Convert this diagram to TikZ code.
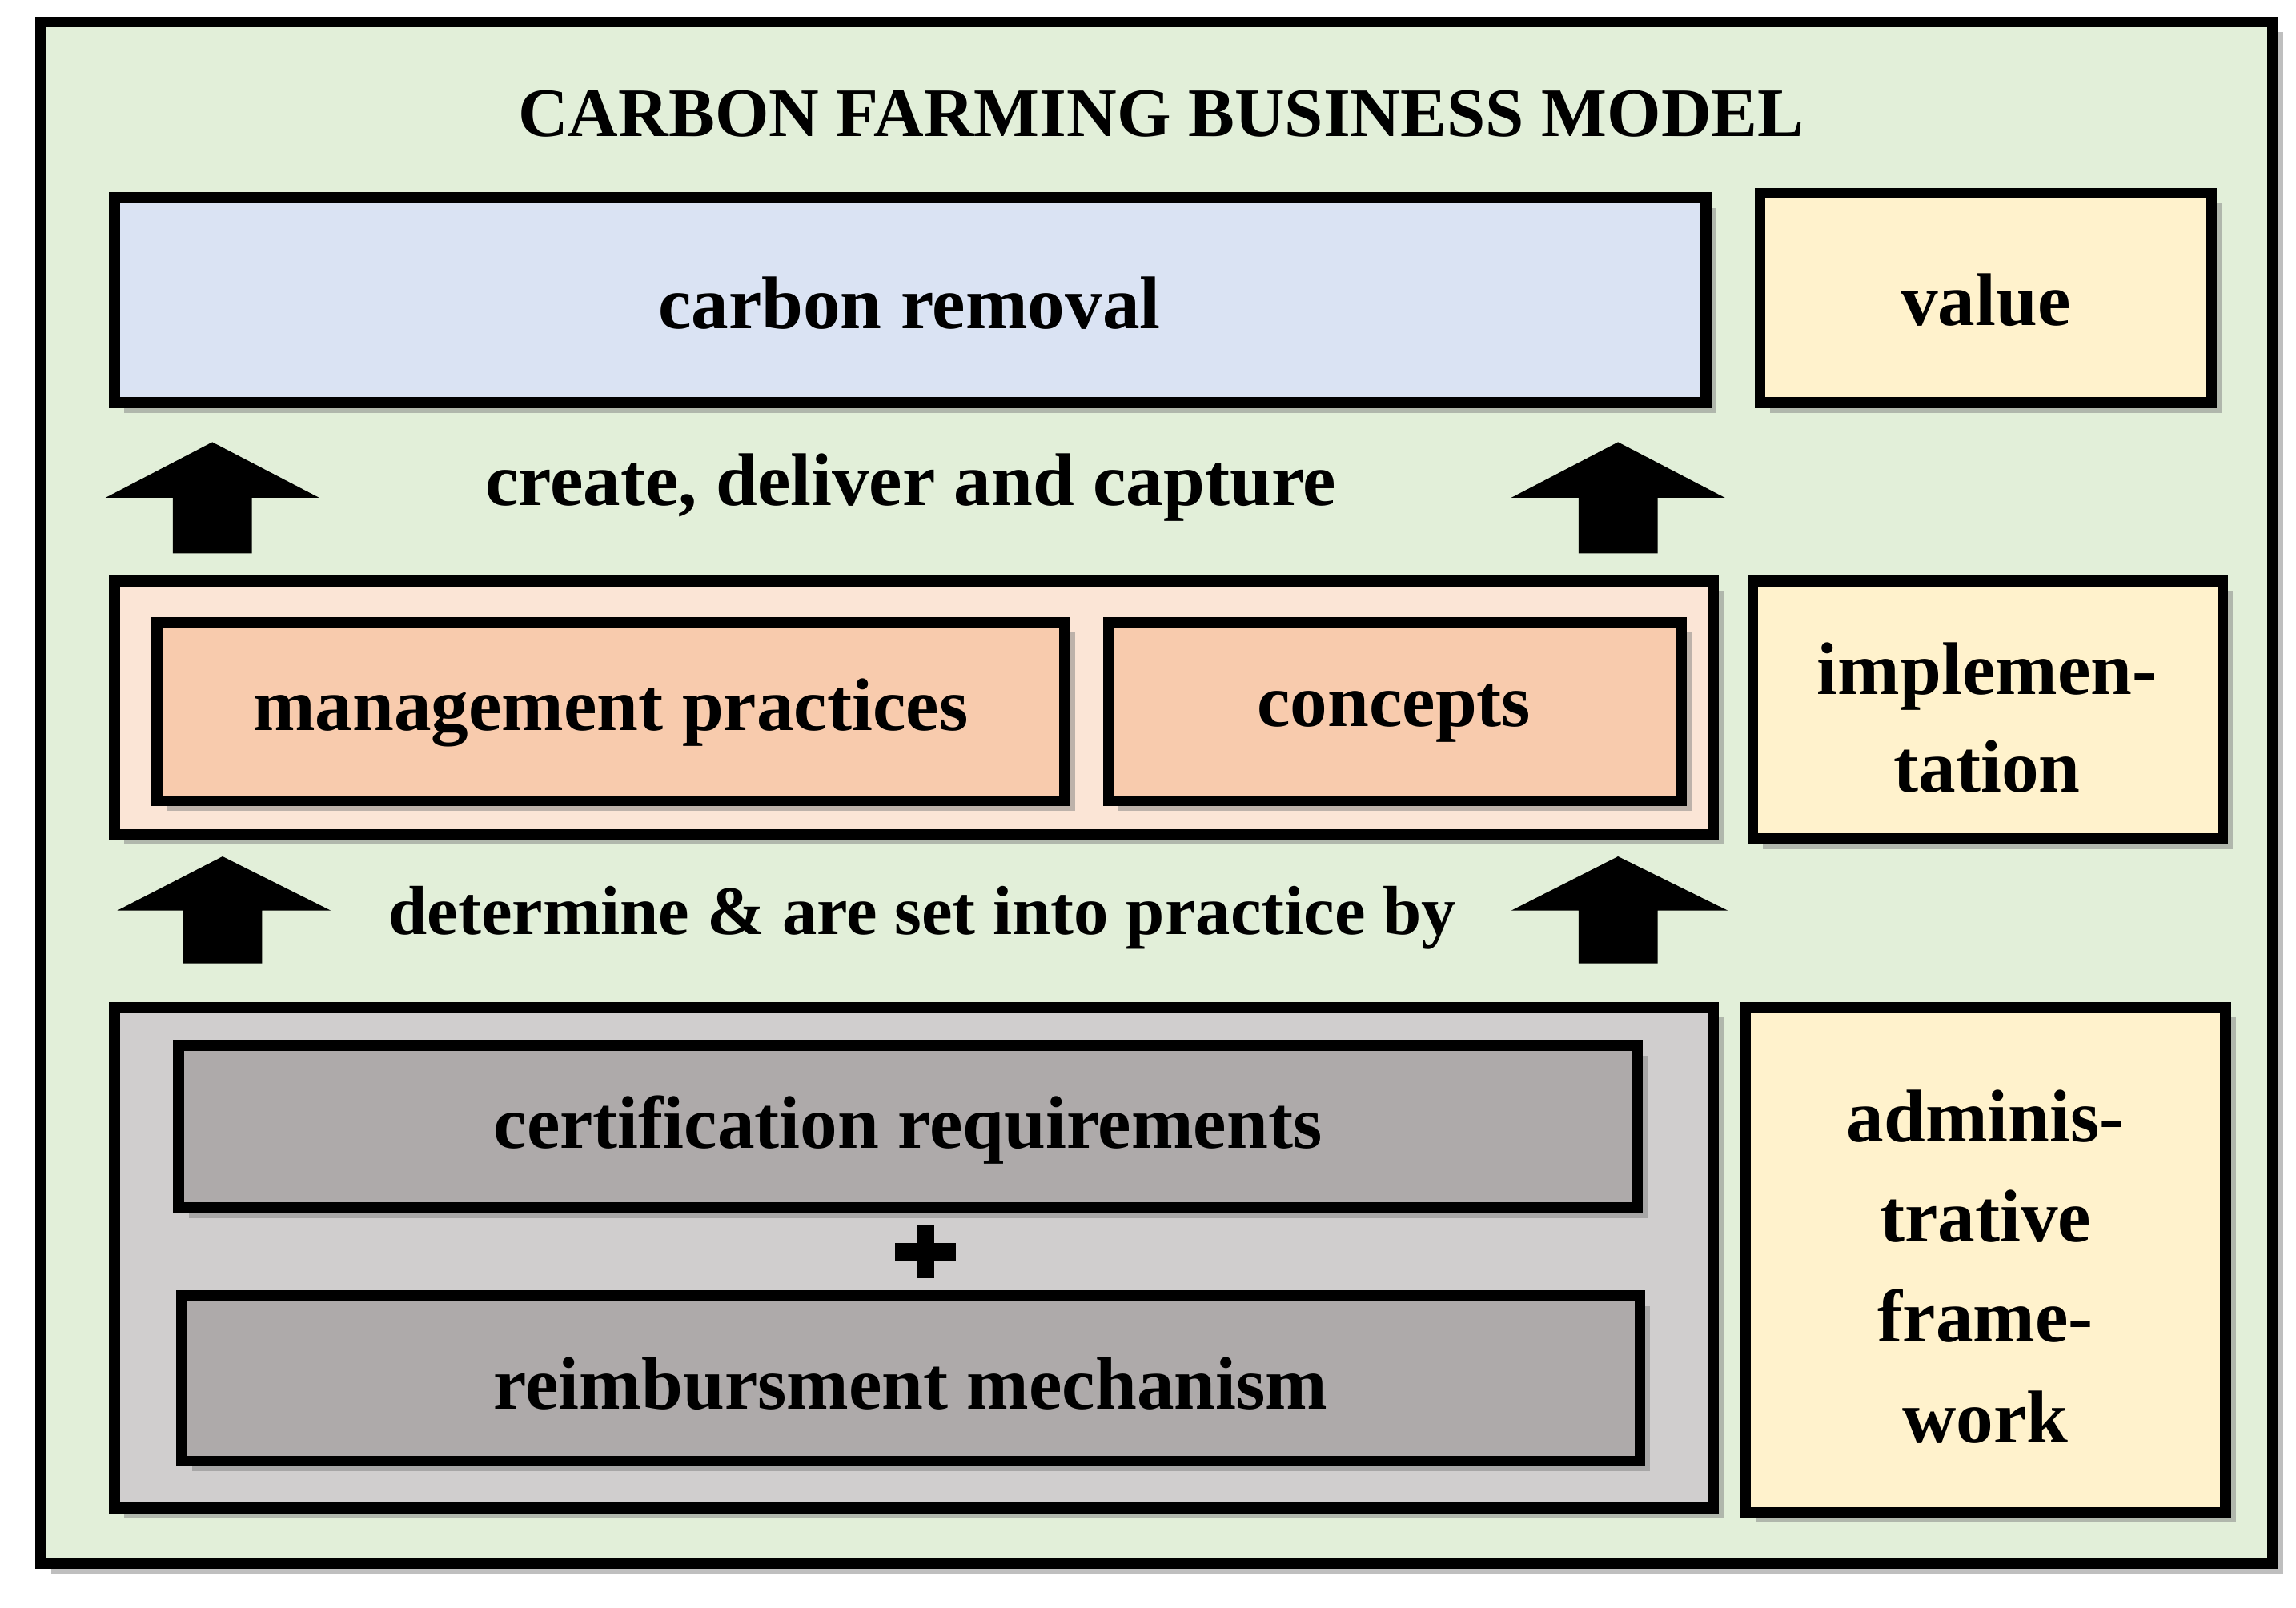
\documentclass[tikz,border=0pt]{standalone}
\usepackage{fontspec}
\setmainfont{Liberation Serif}
\usetikzlibrary{shadows}
\definecolor{bggreen}{HTML}{E2EFD9}
\definecolor{blueb}{HTML}{DAE3F3}
\definecolor{yel}{HTML}{FFF2CC}
\definecolor{peach}{HTML}{FBE5D6}
\definecolor{salmon}{HTML}{F8CBAD}
\definecolor{lgray}{HTML}{D0CECE}
\definecolor{dgray}{HTML}{AEAAAA}
\begin{document}
\begin{tikzpicture}[x=0.1mm,y=-0.1mm,
  box/.style={draw=black,line width=0.75mm,drop shadow={shadow xshift=0.7mm,shadow yshift=-0.7mm,opacity=0.5}},
  lbl/.style={font=\fontsize{14.5}{17}\selectfont\bfseries,align=center,text=black},
  blockarrow/.style={fill=black}]
\useasboundingbox (0,0) rectangle (1568,1098);
\path[box,fill=bggreen] (28,15) rectangle (1552,1068);
\node[font=\fontsize{13.5}{16}\selectfont\bfseries] (title) at (793,78) {CARBON FARMING BUSINESS MODEL};
% top row
\path[box,fill=blueb] (78,135) rectangle (1165,275);
\node[lbl] (cr) at (621,207) {carbon removal};
\path[box,fill=yel] (1202,132) rectangle (1510,275);
\node[lbl] (val) at (1356,205) {value};
% arrows 1
\fill[blockarrow] (118,378) -- (172,378) -- (172,340) -- (218,340) -- (145,302) -- (72,340) -- (118,340) -- cycle;
\fill[blockarrow] (1078,378) -- (1132,378) -- (1132,340) -- (1178,340) -- (1105,302) -- (1032,340) -- (1078,340) -- cycle;
\node[lbl] (cdc) at (622,333) {create, deliver and capture};
% middle row
\path[box,fill=peach] (78,397) rectangle (1170,570);
\path[box,fill=salmon] (107,425) rectangle (727,547);
\node[lbl] (mp) at (417,487) {management practices};
\path[box,fill=salmon] (757,425) rectangle (1148,547);
\node[lbl] (co) at (952,487) {concepts};
\path[box,fill=yel] (1197,397) rectangle (1518,573);
\node[lbl,font=\fontsize{14.5}{19}\selectfont\bfseries] (impl) at (1357,490) {implemen-\\tation};
% arrows 2
\fill[blockarrow] (125,658) -- (179,658) -- (179,622) -- (226,622) -- (152,585) -- (80,622) -- (125,622) -- cycle;
\fill[blockarrow] (1078,658) -- (1132,658) -- (1132,622) -- (1180,622) -- (1105,585) -- (1032,622) -- (1078,622) -- cycle;
\node[lbl,font=\fontsize{13.5}{16}\selectfont\bfseries] (det) at (630,627) {determine \& are set into practice by};
% bottom row
\path[box,fill=lgray] (78,688) rectangle (1170,1030);
\path[box,fill=dgray] (122,714) rectangle (1118,825);
\node[lbl] (cert) at (620,772) {certification requirements};
\coordinate (plus) at (632,855);
\fill[black] ([xshift=-2.1mm,yshift=-0.6mm]plus) rectangle ([xshift=2.1mm,yshift=0.6mm]plus);
\fill[black] ([xshift=-0.6mm,yshift=-1.8mm]plus) rectangle ([xshift=0.6mm,yshift=1.8mm]plus);
\path[box,fill=dgray] (124,885) rectangle (1120,998);
\node[lbl] (reim) at (622,945) {reimbursment mechanism};
\path[box,fill=yel] (1192,688) rectangle (1520,1033);
\node[lbl,font=\fontsize{14.5}{19.5}\selectfont\bfseries] (adm) at (1356,865) {adminis-\\trative\\frame-\\work};
\end{tikzpicture}
\end{document}
